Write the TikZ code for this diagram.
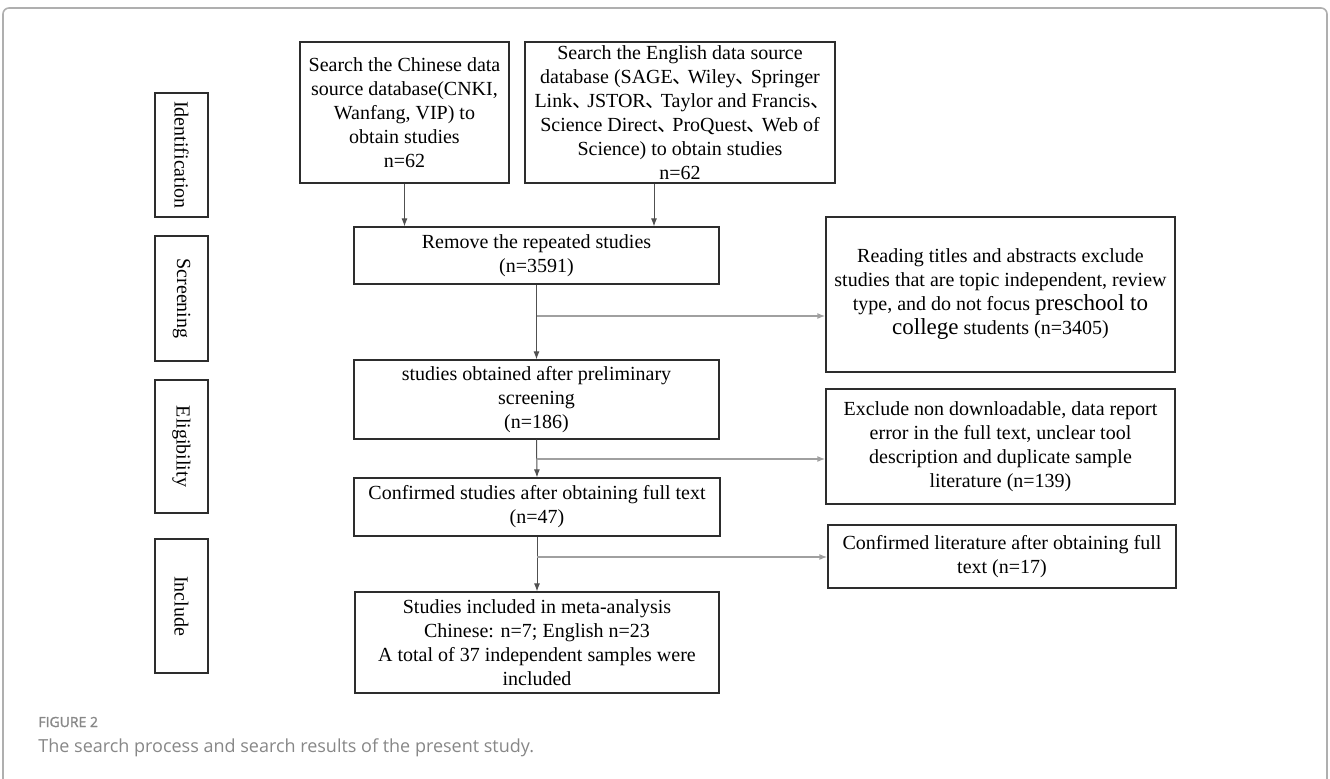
\documentclass[tikz,border=0pt]{standalone}
\usepackage{fontspec}
\setmainfont{Liberation Serif}
\newfontfamily\capfont{Open Sans}
\newfontfamily\capboldfont[FakeBold=1.5]{Open Sans}
\newfontfamily\cjk{Noto Sans CJK SC}
\newcommand{\sepmark}{{\cjk 、}\kern-0.25em}
\usetikzlibrary{arrows.meta,calc}
\definecolor{boxline}{RGB}{45, 45, 45}
\definecolor{flowline}{RGB}{80, 80, 80}
\definecolor{branchline}{RGB}{160, 160, 160}
\definecolor{framegray}{RGB}{175, 175, 175}
\definecolor{captext}{RGB}{135, 135, 135}

\begin{document}
\begin{tikzpicture}[x=0.5pt,y=-0.5pt,
  box/.style={draw=boxline,line width=0.6pt,align=center,inner sep=0pt,
    font=\fontsize{10}{12}\selectfont},
  phase/.style={box,rotate=-90,minimum height=26.5pt},
  arr/.style={flowline,line width=0.5pt,-{Latex[length=4pt,width=3pt]}},
  side/.style={branchline,line width=0.8pt,-{Latex[length=4pt,width=3pt]}}]
\useasboundingbox (0,0) rectangle (1330,778);
\draw[framegray,line width=0.8pt,rounded corners=3pt] (3,800) |- (1327,8) -- (1327,800);
% phases
\node[phase,minimum width=62pt] (ident) at (181.5,155) {Identification};
\node[phase,minimum width=62.5pt] (scr) at (181.5,298.5) {Screening};
\node[phase,minimum width=66.5pt] (elig) at (181.5,446.5) {Eligibility};
\node[phase,minimum width=67pt] (incl) at (181.5,606) {Include};
% main flow
\node[box,minimum width=104.5pt,minimum height=70.5pt] (chn) at (404.5,112.5)
  {Search the Chinese data\\source database(CNKI,\\Wanfang, VIP) to\\obtain studies\\n=62};
\node[box,minimum width=155pt,minimum height=70.5pt] (eng) at (680,112.5)
  {Search the English data source\\database (SAGE\sepmark Wiley\sepmark Springer\\Link\sepmark JSTOR\sepmark Taylor and Francis\sepmark\\Science Direct\sepmark ProQuest\sepmark Web of\\Science) to obtain studies\\n=62};
\node[box,minimum width=182.5pt,minimum height=28.5pt] (rem) at (536.5,255.5)
  {Remove the repeated studies\\(n=3591)};
\node[box,minimum width=182.5pt,minimum height=39.5pt] (obt) at (536.5,399.5)
  {studies obtained after preliminary\\screening\\(n=186)};
\node[box,minimum width=183pt,minimum height=29pt] (conf) at (537,507)
  {Confirmed studies after obtaining full text\\(n=47)};
\node[box,minimum width=182pt,minimum height=50.5pt] (inc) at (537,642.5)
  {Studies included in meta-analysis\\Chinese: n=7; English n=23\\A total of 37 independent samples were\\included};
% excluded
\node[box,minimum width=174.5pt,minimum height=77.5pt] (read) at (1000.5,294.5)
  {Reading titles and abstracts exclude\\studies that are topic independent, review\\type, and do not focus {\fontsize{11.5}{12}\selectfont preschool to}\\{\fontsize{11.5}{12}\selectfont college} students (n=3405)};
\node[box,minimum width=174.5pt,minimum height=57.5pt] (excl) at (1000.5,446.5)
  {Exclude non downloadable, data report\\error in the full text, unclear tool\\description and duplicate sample\\literature (n=139)};
\node[box,minimum width=174pt,minimum height=31.5pt] (lit) at (1002,556.5)
  {Confirmed literature after obtaining full\\text (n=17)};
% arrows
\draw[arr] (chn.south) -- (chn.south |- rem.north);
\draw[arr] ([xshift=-13pt]eng.south) -- ([xshift=-13pt]eng.south |- rem.north);
\draw[arr] (rem.south) -- (obt.north);
\draw[arr] (obt.south) -- (conf.north);
\draw[arr] (conf.south) -- (inc.north);
\coordinate (b1) at (537,316);
\coordinate (b2) at (537,459);
\coordinate (b3) at (537,557);
\draw[side] (b1) -- (b1 -| read.west);
\draw[side] (b2) -- (b2 -| excl.west);
\draw[side] (b3) -- (b3 -| lit.west);
% caption
\node[anchor=base west,inner sep=0pt,text=captext,font=\capboldfont\fontsize{7}{8}\selectfont] (fig) at (38,727) {FIGURE 2};
\node[anchor=base west,inner sep=0pt,text=captext,font=\capfont\fontsize{9}{10}\selectfont] (cap) at (38,752) {The search process and search results of the present study.};
\end{tikzpicture}
\end{document}
